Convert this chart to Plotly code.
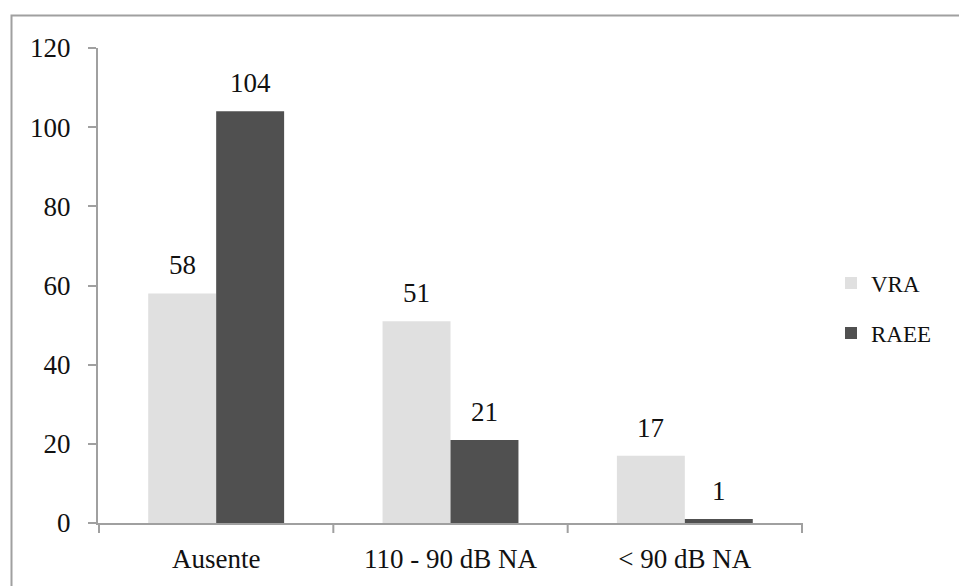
import plotly.graph_objects as go

categories = ["Ausente", "110 - 90 dB NA", "< 90 dB NA"]
vra = [58, 51, 17]
raee = [104, 21, 1]
y_ticks = [0, 20, 40, 60, 80, 100, 120]

FONT = "'Liberation Serif', serif"
FS = 27
W, H = 959, 586
L, R, T, B = 98, 156, 48, 63
pw, ph = W - L - R, H - T - B

fig = go.Figure()
fig.add_trace(go.Bar(x=categories, y=vra, name="VRA", marker_color="#e0e0e0",
                     marker_line_width=0, legend="legend"))
fig.add_trace(go.Bar(x=categories, y=raee, name="RAEE", marker_color="#505050",
                     marker_line_width=0, legend="legend2"))

# value labels above each bar
for i, c in enumerate(categories):
    for off, vals in ((-0.145, vra), (0.145, raee)):
        fig.add_annotation(x=i + off, y=vals[i], xref="x", yref="y", text=str(vals[i]),
                           showarrow=False, yanchor="bottom", yshift=11,
                           font=dict(family=FONT, size=FS, color="#111111"))

# outer frame
fig.add_shape(type="rect", xref="paper", yref="paper",
              x0=(11.5 - L) / pw, x1=(W + 20 - L) / pw,
              y0=-(B + 20) / ph, y1=1 + (T - 15.5) / ph,
              line=dict(color="#a0a0a0", width=2), fillcolor="rgba(0,0,0,0)", layer="below")

legend_common = dict(xref="container", yref="container", xanchor="left", yanchor="middle",
                     font=dict(family=FONT, size=23), bgcolor="rgba(0,0,0,0)")

fig.update_layout(
    width=W, height=H,
    margin=dict(l=L, r=R, t=T, b=B, autoexpand=False),
    paper_bgcolor="white", plot_bgcolor="white",
    barmode="group", bargap=0.42, bargroupgap=0,
    font=dict(family=FONT, size=FS, color="#111111"),
    showlegend=True,
    legend=dict(x=831 / W, y=1 - 283 / H, **legend_common),
    legend2=dict(x=831 / W, y=1 - 333 / H, **legend_common),
    xaxis=dict(showline=True, linecolor="#a0a0a0", linewidth=2,
               ticks="", showgrid=False, tickfont=dict(family=FONT, size=FS),
               showdividers=False, ticklabelstandoff=11),
    yaxis=dict(range=[0, 120], tickvals=y_ticks, showline=True, linecolor="#a0a0a0",
               linewidth=2, ticks="outside", ticklen=8, tickcolor="#a0a0a0", tickwidth=2,
               showgrid=False, zeroline=False, tickfont=dict(family=FONT, size=FS),
               ticklabelstandoff=12),
)

# category boundary ticks on the x axis
for b in (-0.5, 0.5, 1.5, 2.5):
    fig.add_shape(type="line", xref="x", yref="paper", x0=b, x1=b, y0=0, y1=-10 / ph,
                  line=dict(color="#a0a0a0", width=2))

fig.write_html("out.html")
